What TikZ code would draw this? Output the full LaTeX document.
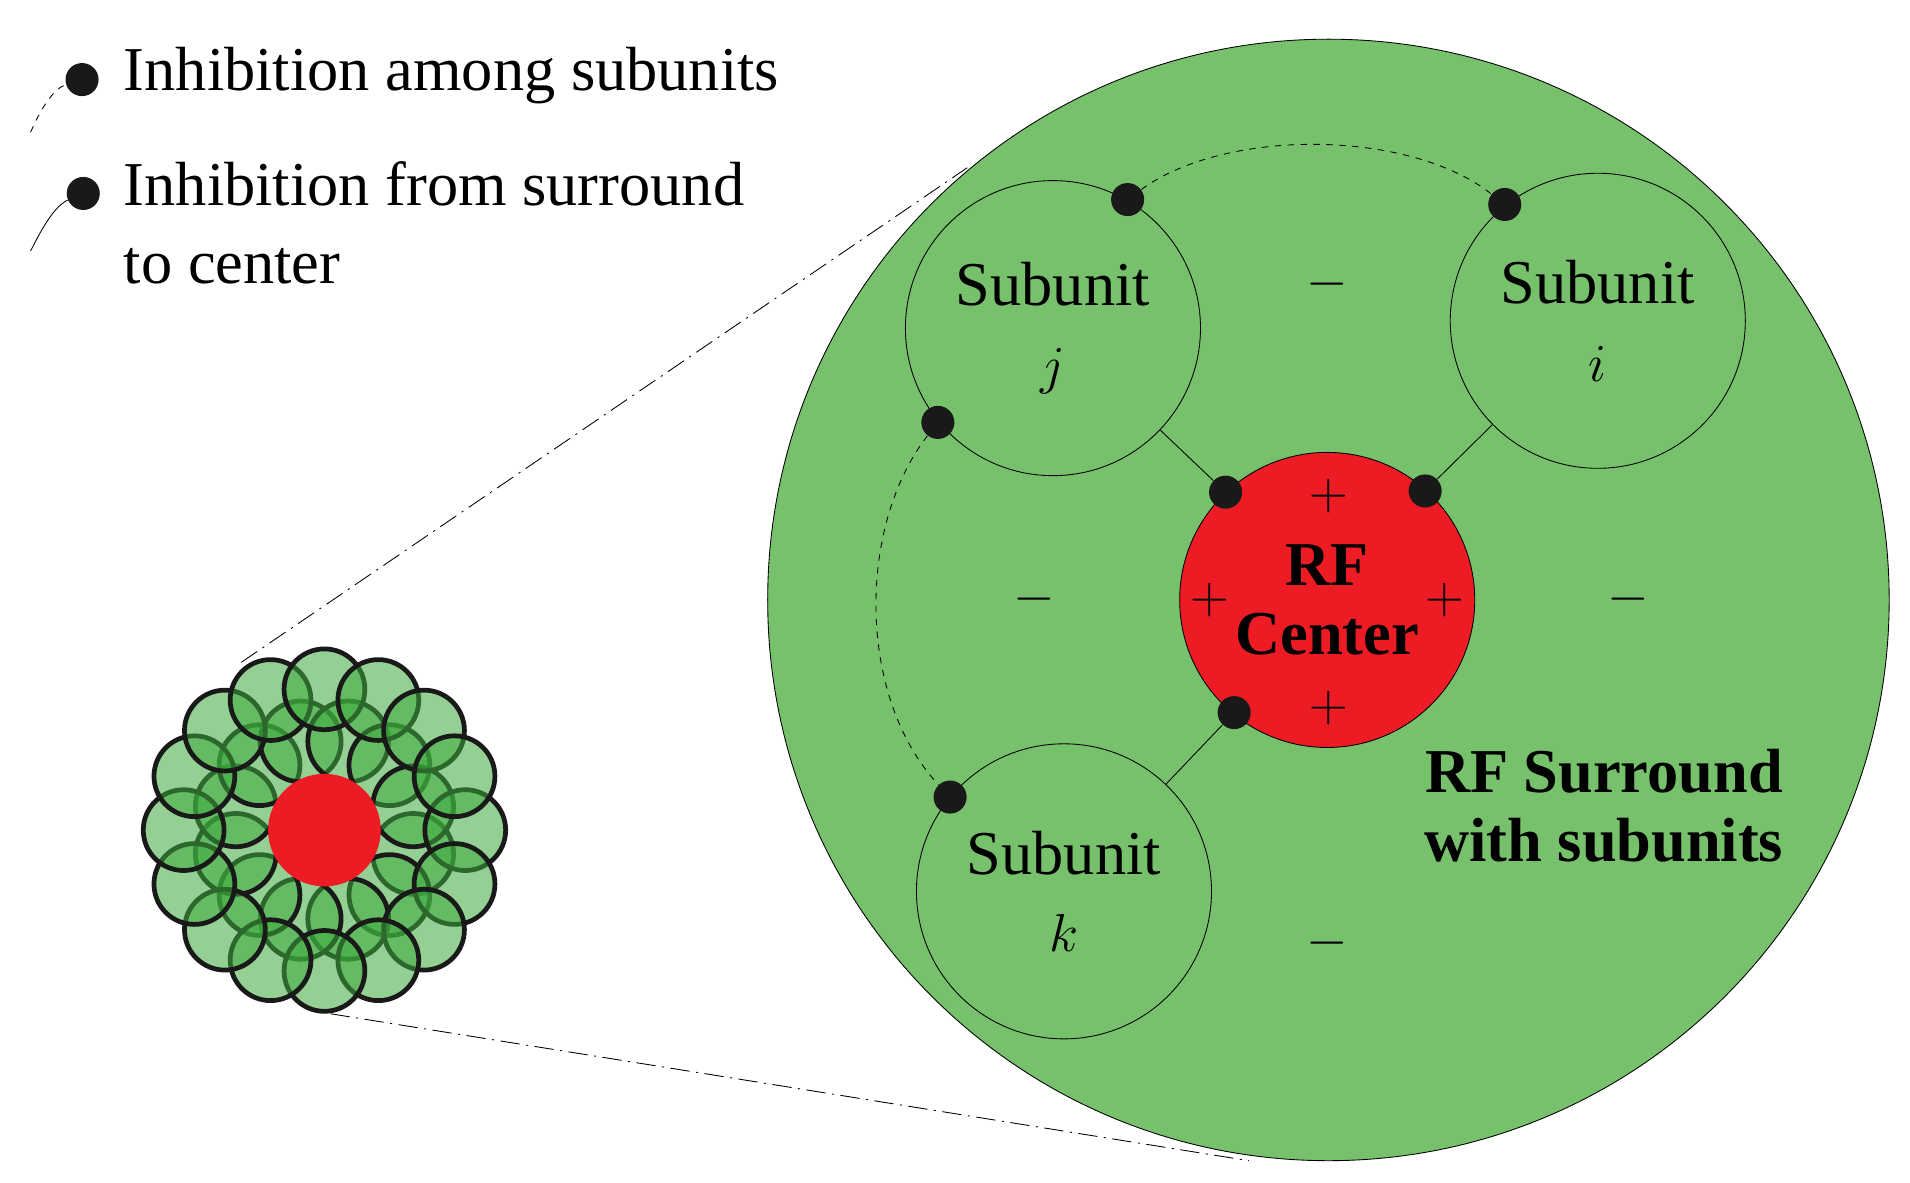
\documentclass[tikz,border=0pt]{standalone}
\usepackage{fontspec}
\setmainfont{Liberation Serif}
\usetikzlibrary{positioning,calc}
\definecolor{surroundgreen}{RGB}{120,193,108}
\definecolor{centerred}{RGB}{237,28,36}
\definecolor{smallgreen}{RGB}{60,170,60}
\newlength{\pu}
\setlength{\pu}{0.02cm}
\tikzstyle{subunit} = [circle, draw=black, fill=none, minimum size=241\pu, inner sep=0pt, align=center, font=\fontsize{29}{36}\selectfont]
\tikzstyle{dot} = [circle, fill=black!90, minimum size=27\pu, inner sep=0pt]
\tikzstyle{sign} = [font=\fontsize{29}{36}\selectfont]
\tikzstyle{legend} = [anchor=west, align=left, font=\fontsize{29}{36}\selectfont]
\tikzstyle{dashdot} = [dash pattern=on 9pt off 3pt on 1pt off 3pt, thin]
\tikzstyle{tiny} = [circle, draw=black!90, line width=2.2pt, fill=smallgreen, fill opacity=0.55, minimum size=66\pu, inner sep=0pt]
\begin{document}
\begin{tikzpicture}[x=0.02cm, y=-0.02cm]
\useasboundingbox (0,0) rectangle (1560,966);

% zoom lines
\coordinate (zt1) at (197,541);
\coordinate (zt2) at (790,137);
\coordinate (zb1) at (270,828);
\coordinate (zb2) at (1020,948);
\draw [dashdot] (zt1) -- (zt2);
\draw [dashdot] (zb1) -- (zb2);

% big surround
\node [circle, draw=black, fill=surroundgreen, minimum size=916\pu, inner sep=0pt] (surround) at (1085,490) {};
\node [circle, fill=centerred, draw=black, minimum size=241\pu, inner sep=0pt, align=center, font=\bfseries\fontsize{29}{32}\selectfont] (center) at (1084,490) {RF\\Center};

\node [subunit] (sj) at (860,268) {Subunit\\$j$};
\node [subunit] (si) at (1305,262) {Subunit\\$i$};
\node [subunit] (sk) at (869,728) {Subunit\\$k$};

\node [dot] (dj) at (921,163) {};
\node [dot] (di) at (1229,167) {};
\node [dot] (djl) at (766,345) {};
\node [dot] (dk) at (776,651) {};
\node [dot] (cj) at (1001,402) {};
\node [dot] (ci) at (1164,401) {};
\node [dot] (ck) at (1008,582) {};

\draw (sj) -- (cj);
\draw (si) -- (ci);
\draw (sk) -- (ck);
\draw [dashed] (dj) .. controls (1000,105) and (1150,105) .. (di);
\draw [dashed] (djl) .. controls (700,430) and (700,570) .. (dk);

\node [sign] (m1) at (1084,232) {$-$};
\node [sign] (m2) at (845,489) {$-$};
\node [sign] (m3) at (1330,489) {$-$};
\node [sign] (m4) at (1084,770) {$-$};
\node [sign] (p1) at (1085,405) {$+$};
\node [sign] (p2) at (988,490) {$+$};
\node [sign] (p3) at (1180,490) {$+$};
\node [sign] (p4) at (1085,578) {$+$};

\node [align=center, font=\bfseries\fontsize{29}{32}\selectfont] (surlabel) at (1310,658) {RF Surround\\with subunits};

% legend
\node [dot] (ld1) at (67,65) {};
\node [dot] (ld2) at (68,158) {};
\coordinate (lt1) at (25,108);
\coordinate (lt2) at (25,205);
\draw [dashed] (lt1) .. controls (35,85) and (45,72) .. (ld1);
\draw (lt2) .. controls (35,185) and (45,168) .. (ld2);
\node [legend] (l1) at (95,62) {Inhibition among subunits};
\node [legend] (l2) at (95,182) {Inhibition from surround\\to center};

% small receptive field
\foreach \a in {0,30,...,330}
  \node [tiny] at ($(265,678)+(\a+15:75)$) {};
\foreach \a in {0,22.5,...,337.5}
  \node [tiny] at ($(265,678)+(\a:115)$) {};
\node [circle, fill=centerred, minimum size=92\pu, inner sep=0pt] (smallcenter) at (265,678) {};
\end{tikzpicture}
\end{document}
